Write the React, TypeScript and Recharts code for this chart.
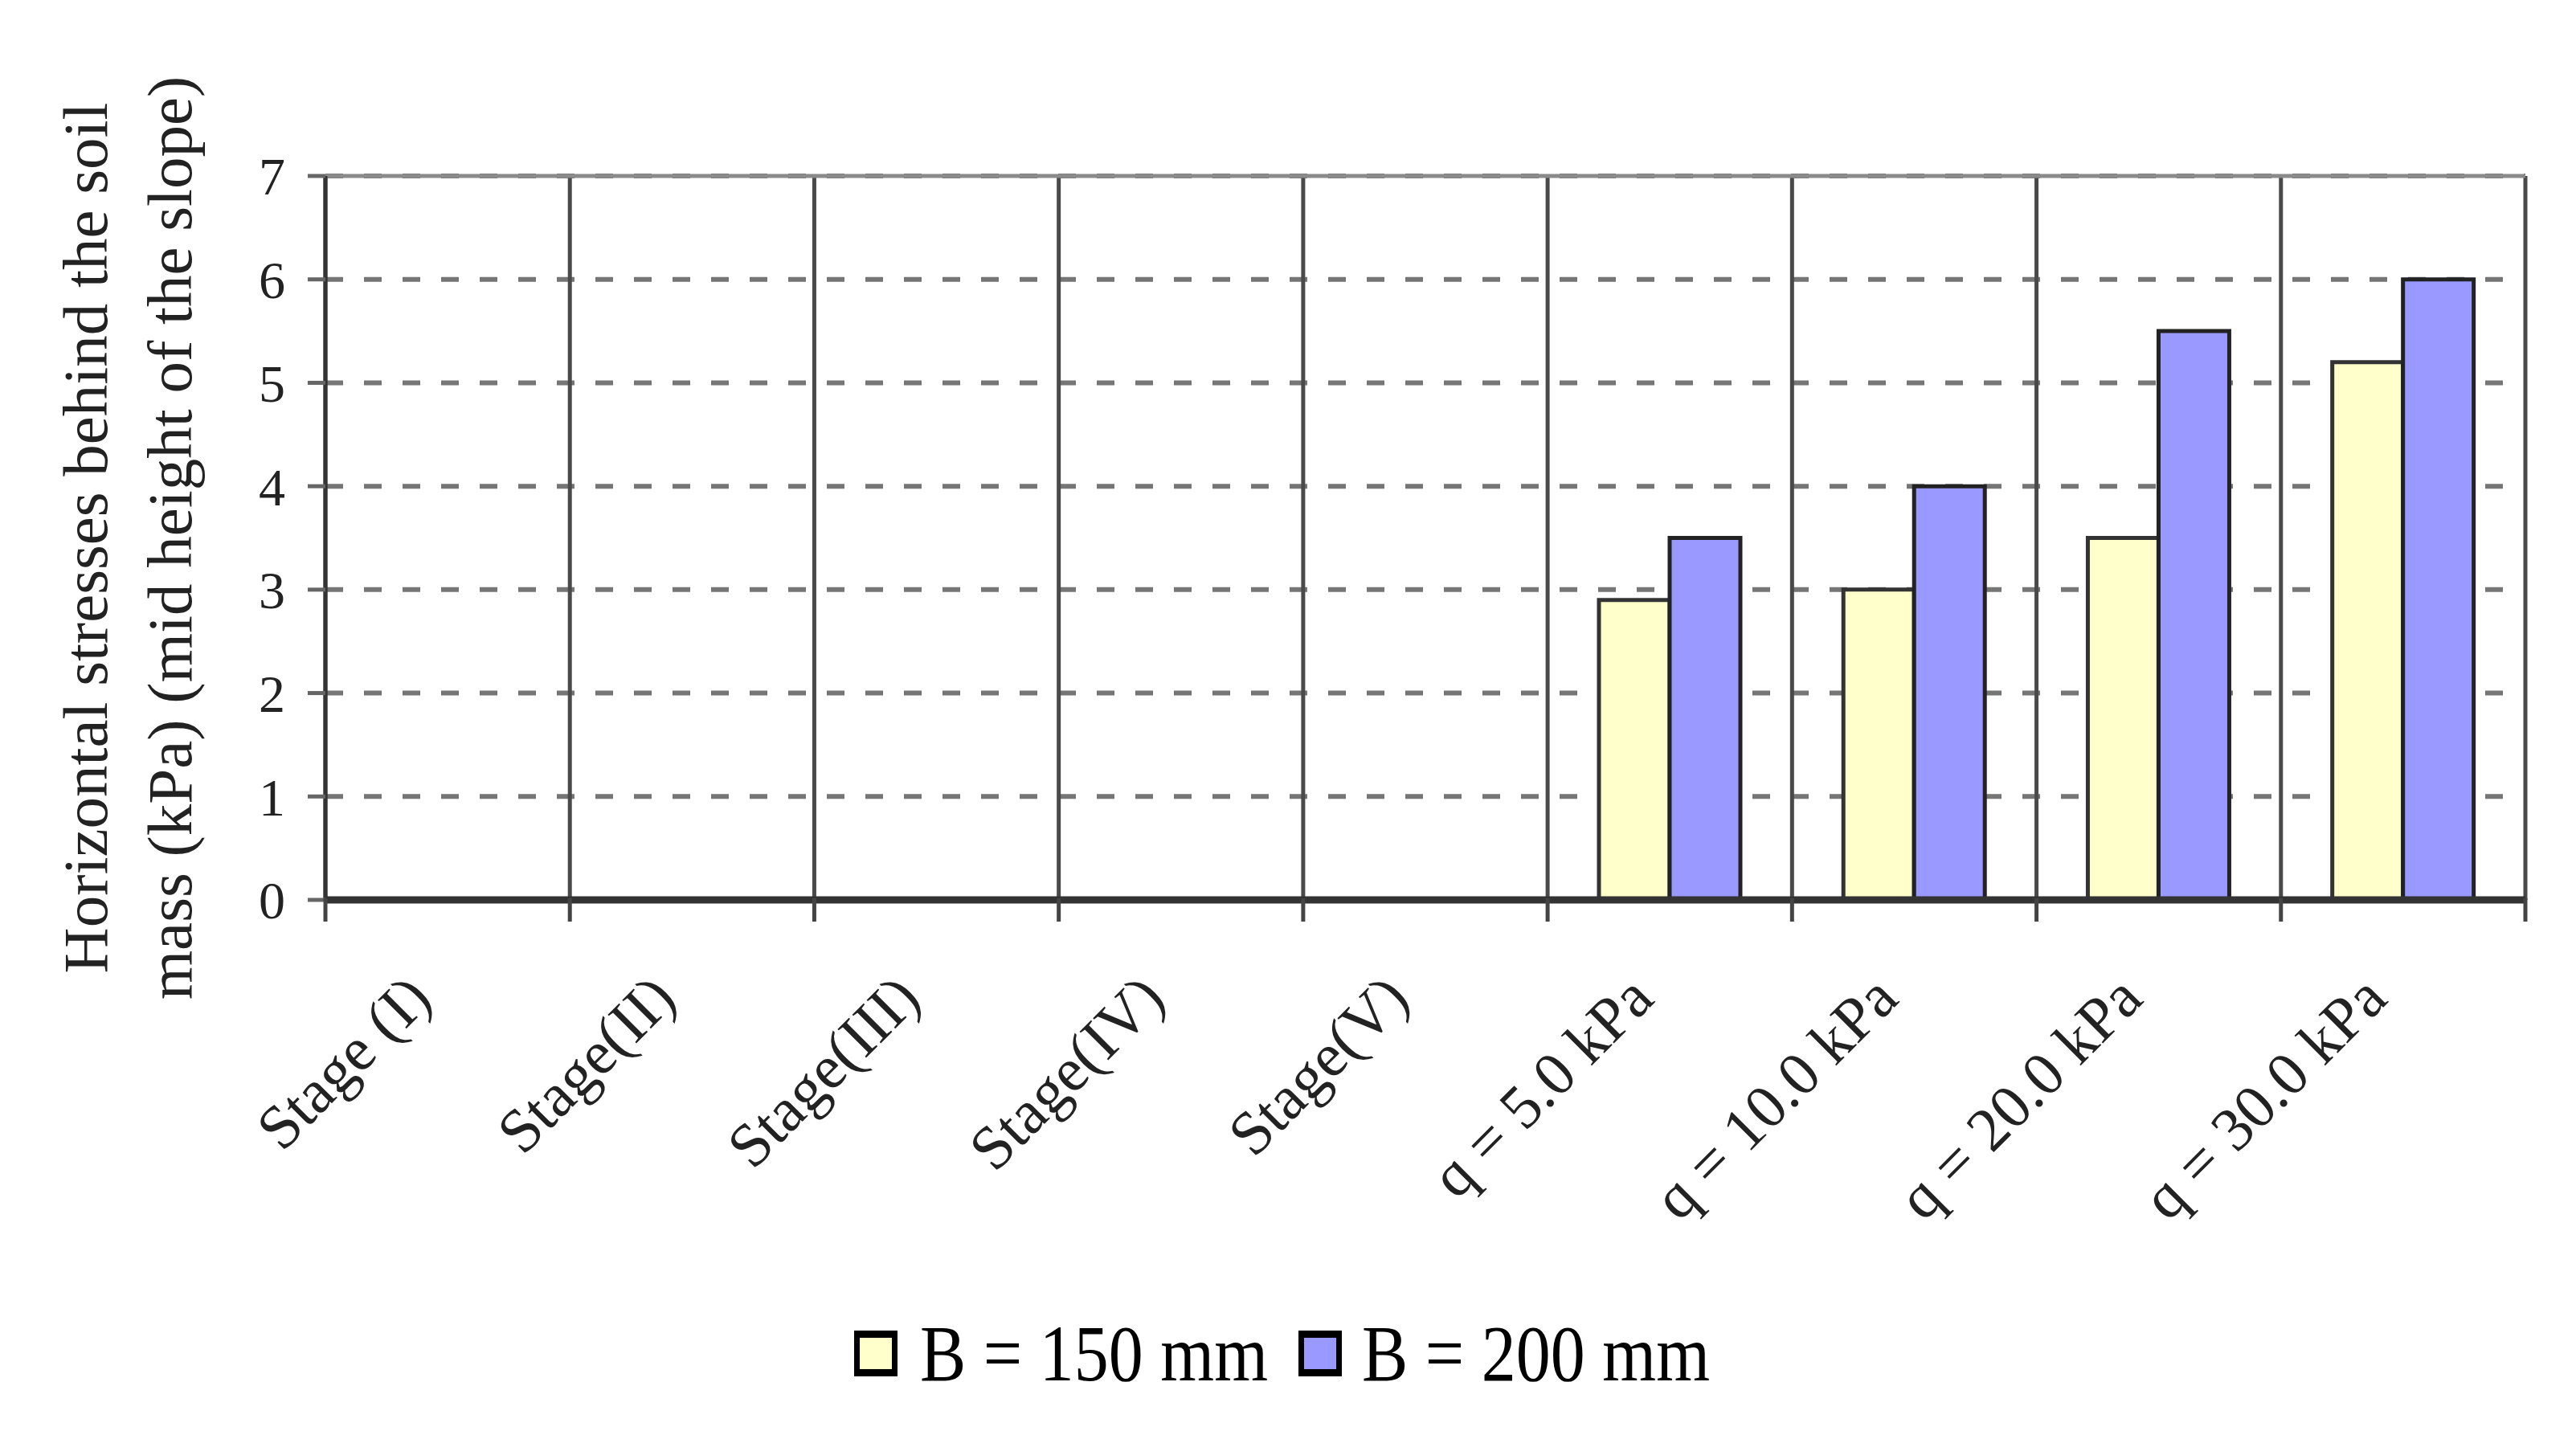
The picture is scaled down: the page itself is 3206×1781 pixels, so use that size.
import { BarChart, Bar, XAxis, YAxis, CartesianGrid, Legend, ReferenceLine } from 'recharts'

const categories = [
    'Stage (I)',
    'Stage(II)',
    'Stage(III)',
    'Stage(IV)',
    'Stage(V)',
    'q = 5.0 kPa',
    'q = 10.0 kPa',
    'q = 20.0 kPa',
    'q = 30.0 kPa'
]

// stages have no readings, only the surcharge steps do
const b150 = [null, null, null, null, null, 2.9, 3.0, 3.5, 5.2]
const b200 = [null, null, null, null, null, 3.5, 4.0, 5.5, 6.0]

const seriesNames = ['B = 150 mm', 'B = 200 mm']
const yTicks = [0, 1, 2, 3, 4, 5, 6, 7]
const yTitle = ['Horizontal stresses behind the soil', 'mass (kPa) (mid height of the slope)']

const COLORS = {
    b150: '#ffffcc', // pale yellow
    b200: '#9999ff'  // lavender blue
}

const FONT = '"Liberation Serif", "Times New Roman", serif'

const data = categories.map((name, i) => ({ name, b150: b150[i], b200: b200[i] }))

// solid lines sit on the category boundaries, not on the centres
const boundaryLines = ({ offset }: any) =>
    categories.map((_, i) => i).concat([categories.length])
        .map(i => offset.left + (offset.width * i) / categories.length)

function XTick({ x, y, payload, index }: any) {
    const half = payload.offset || 0
    const last = index === categories.length - 1
    return (
        <g>
            <line x1={x - half} x2={x - half} y1={y - 4} y2={y + 25} stroke="#444" strokeWidth={5} />
            {last && <line x1={x + half} x2={x + half} y1={y - 4} y2={y + 25} stroke="#444" strokeWidth={5} />}
            <text
                x={0}
                y={0}
                transform={`translate(${x - 17},${y + 124}) rotate(-45)`}
                textAnchor="end"
                fontSize={77}
                fontFamily={FONT}
                fill="#222"
            >
                {payload.value}
            </text>
        </g>
    )
}

function YTitle({ viewBox }: any) {
    const cy = viewBox.y + viewBox.height / 2
    const xs = [viewBox.x - 149, viewBox.x - 44]
    return (
        <g>
            {yTitle.map((line, i) => (
                <text
                    key={line}
                    x={xs[i]}
                    y={cy}
                    transform={`rotate(-90, ${xs[i]}, ${cy})`}
                    textAnchor="middle"
                    dominantBaseline="central"
                    fontSize={79}
                    fontFamily={FONT}
                    fill="#222"
                >
                    {line}
                </text>
            ))}
        </g>
    )
}

function LegendBox({ payload }: any) {
    const items = payload || []
    const textX = [82, 632]
    const boxX = [0, 553]
    return (
        <div style={{ height: 120, display: 'flex', justifyContent: 'center' }}>
            <svg width={1080} height={120}>
                {items.map((item: any, i: number) => (
                    <g key={item.value}>
                        <rect x={boxX[i]} y={28} width={54} height={57} fill="#000" />
                        <rect x={boxX[i] + 7} y={37} width={40} height={39} fill={item.color} />
                        {/* the source type is tall and narrow */}
                        <text
                            transform={`translate(${textX[i]},90) scale(0.86,1)`}
                            fontSize={100}
                            fontFamily={FONT}
                            fill="#000"
                        >
                            {item.value}
                        </text>
                    </g>
                ))}
            </svg>
        </div>
    )
}

export default function App() {
    return (
        <div style={{ width: 3190, height: 1765, background: '#fff' }}>
            <BarChart
                width={3190}
                height={1765}
                data={data}
                margin={{ top: 211, right: 55, left: 247, bottom: 25 }}
                barCategoryGap="21%"
                barGap={0}
            >
                {/* dashed horizontal grid */}
                <CartesianGrid
                    vertical={false}
                    stroke="#767676"
                    strokeWidth={6}
                    strokeDasharray="22 26"
                />
                {/* solid lines between categories */}
                <CartesianGrid
                    horizontal={false}
                    verticalCoordinatesGenerator={boundaryLines}
                    stroke="#4a4a4a"
                    strokeWidth={5}
                />
                <XAxis
                    dataKey="name"
                    interval={0}
                    height={508}
                    tickLine={false}
                    tickSize={0}
                    axisLine={{ stroke: '#333', strokeWidth: 9 }}
                    tick={<XTick />}
                />
                <YAxis
                    domain={[0, 7]}
                    ticks={yTicks}
                    interval={0}
                    width={150}
                    tickSize={22}
                    tickMargin={28}
                    tickLine={{ stroke: '#666', strokeWidth: 5 }}
                    axisLine={{ stroke: '#333', strokeWidth: 5 }}
                    tick={{ fontSize: 66, fontFamily: FONT, fill: '#222' }}
                    label={{ content: <YTitle /> }}
                />
                <ReferenceLine y={7} stroke="#8a8a8a" strokeWidth={5} />
                <Legend
                    verticalAlign="bottom"
                    wrapperStyle={{ left: 0, width: 3190 }}
                    content={<LegendBox />}
                />
                <Bar
                    dataKey="b150"
                    name={seriesNames[0]}
                    fill={COLORS.b150}
                    stroke="#333"
                    strokeWidth={5}
                    isAnimationActive={false}
                />
                <Bar
                    dataKey="b200"
                    name={seriesNames[1]}
                    fill={COLORS.b200}
                    stroke="#222"
                    strokeWidth={5}
                    isAnimationActive={false}
                />
            </BarChart>
        </div>
    )
}
